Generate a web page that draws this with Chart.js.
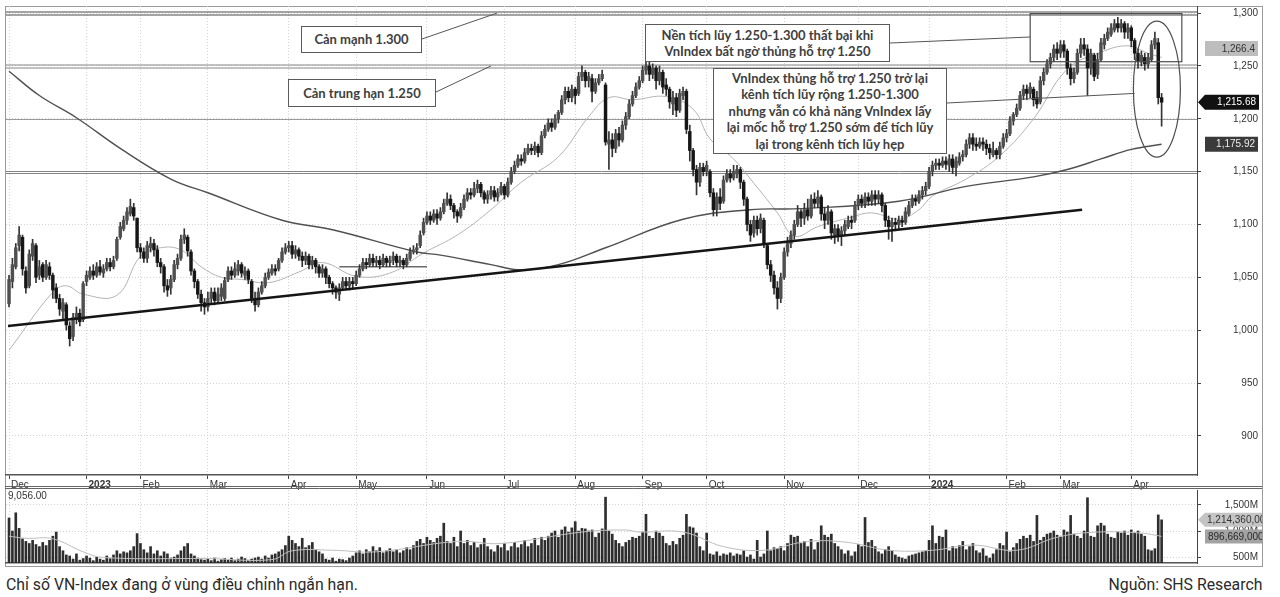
<!DOCTYPE html>
<html lang="vi">
<head>
<meta charset="utf-8">
<title>VN-Index</title>
<script src="https://cdn.jsdelivr.net/npm/chart.js@4.4.1/dist/chart.umd.min.js"></script>
<style>
  html, body { margin:0; padding:0; background:#fff; }
  #wrap { position:relative; width:1280px; height:597px; overflow:hidden; background:#fff; }
  #frame { position:absolute; left:5px; top:6px; width:1256px; height:559px; border:1px solid #9a9a9a; }
  canvas { position:absolute; left:0; }
  #cPrice { top:0; }
  #cVol { top:488px; }
  .box { position:absolute; box-sizing:border-box; border:1.5px solid #5a5a5a; background:#fff; color:#404040;
         font-family:Lato, "Open Sans", sans-serif; font-weight:700; font-size:13px; line-height:16.5px;
         display:flex; align-items:center; justify-content:center; text-align:center; white-space:nowrap; }
  .cap { position:absolute; top:574px; font-family:Roboto, "Liberation Sans", sans-serif; font-size:17px; color:#2a2a2a; white-space:nowrap; }
  #capL { left:6px; transform-origin:left top; transform:scaleX(0.93); }
  #capR { right:18px; transform-origin:right top; transform:scaleX(0.93); }
  #volTop { position:absolute; left:8px; top:490px; font:10px "Liberation Sans", Arial, sans-serif; color:#333; }
</style>
</head>
<body>
<div id="wrap">
  <div id="frame"></div>
  <canvas id="cPrice" width="1280" height="490"></canvas>
  <canvas id="cVol" width="1280" height="80"></canvas>
  <div id="volTop">9,056.00</div>
  <div class="box" style="left:301px;top:26px;width:121px;height:27px;">Cản mạnh 1.300</div>
  <div class="box" style="left:288px;top:79px;width:148px;height:28px;">Cản trung hạn 1.250</div>
  <div class="box" style="left:645px;top:24px;width:245px;height:38px;">Nền tích lũy 1.250-1.300 thất bại khi<br>VnIndex bất ngờ thủng hỗ trợ 1.250</div>
  <div class="box" style="left:713px;top:68px;width:234px;height:86px;">VnIndex thủng hỗ trợ 1.250 trở lại<br>kênh tích lũy rộng 1.250-1.300<br>nhưng vẫn có khả năng VnIndex lấy<br>lại mốc hỗ trợ 1.250 sớm để tích lũy<br>lại trong kênh tích lũy hẹp</div>
  <div class="cap" id="capL">Chỉ số VN-Index đang ở vùng điều chỉnh ngắn hạn.</div>
  <div class="cap" id="capR">Nguồn: SHS Research</div>
</div>
<script>
// ---------- DATA: daily candles [open, high, low, close] by month ----------
const dec22 = [[1025,1052,1022,1048],[1046,1068,1040,1062],[1060,1082,1058,1078],[1080,1098,1075,1090],[1088,1090,1052,1058],[1056,1060,1035,1040],[1042,1076,1040,1072],[1070,1086,1066,1082],[1080,1082,1045,1050],[1052,1066,1048,1060],[1062,1064,1046,1050],[1050,1066,1048,1062],[1060,1064,1048,1052],[1052,1054,1030,1038],[1040,1044,1026,1030],[1030,1034,1014,1020],[1018,1030,1010,1026],[1024,1026,1000,1005],[1004,1008,985,992],[994,1016,990,1012],[1010,1022,1006,1016],[1016,1020,1004,1008]];
const jan23 = [[1010,1046,1008,1044],[1046,1056,1042,1052],[1050,1060,1048,1056],[1056,1062,1048,1052],[1052,1064,1050,1060],[1060,1066,1052,1055],[1054,1062,1050,1058],[1058,1068,1056,1064],[1064,1068,1056,1060],[1060,1070,1058,1066],[1068,1088,1066,1086],[1088,1102,1086,1098],[1096,1108,1094,1104],[1104,1116,1100,1112],[1110,1124,1108,1117],[1116,1120,1104,1108]];
const feb23 = [[1106,1106,1074,1078],[1078,1082,1068,1074],[1074,1078,1064,1068],[1068,1084,1064,1080],[1078,1088,1074,1082],[1082,1086,1070,1076],[1076,1080,1060,1064],[1064,1068,1054,1060],[1060,1062,1036,1042],[1042,1048,1032,1038],[1040,1052,1034,1048],[1048,1066,1046,1062],[1062,1072,1058,1068],[1068,1090,1066,1086],[1086,1096,1082,1090],[1088,1090,1070,1075],[1074,1076,1052,1056],[1056,1058,1040,1046],[1046,1048,1030,1034],[1034,1038,1018,1026]];
const mar23 = [[1026,1030,1015,1022],[1022,1036,1018,1030],[1030,1040,1026,1036],[1036,1040,1024,1028],[1028,1040,1026,1034],[1032,1044,1028,1040],[1030,1050,1028,1047],[1048,1060,1046,1056],[1056,1060,1048,1052],[1052,1064,1050,1058],[1056,1066,1052,1062],[1062,1064,1050,1054],[1052,1060,1048,1056],[1056,1058,1044,1048],[1046,1048,1026,1030],[1030,1036,1018,1024],[1024,1040,1022,1036],[1036,1046,1034,1042],[1042,1054,1040,1050],[1050,1058,1048,1055],[1054,1062,1052,1058],[1058,1062,1052,1056],[1058,1068,1056,1066]];
const apr23 = [[1066,1078,1064,1074],[1074,1082,1072,1078],[1078,1084,1074,1080],[1080,1084,1068,1072],[1072,1080,1068,1076],[1076,1078,1066,1070],[1070,1074,1060,1066],[1066,1074,1062,1070],[1070,1072,1058,1062],[1062,1070,1058,1066],[1066,1068,1054,1060],[1060,1062,1050,1054],[1054,1062,1050,1058],[1058,1060,1044,1050],[1050,1052,1040,1044],[1044,1046,1034,1040],[1040,1042,1030,1036],[1034,1044,1028,1040],[1040,1050,1038,1046],[1046,1050,1038,1042]];
const may23 = [[1042,1050,1038,1046],[1046,1050,1040,1044],[1044,1056,1042,1052],[1052,1062,1050,1058],[1058,1068,1056,1064],[1064,1068,1058,1062],[1062,1072,1060,1068],[1068,1072,1060,1064],[1064,1070,1060,1066],[1066,1070,1058,1062],[1062,1072,1060,1068],[1068,1070,1060,1064],[1064,1070,1060,1066],[1066,1074,1062,1070],[1070,1072,1060,1064],[1064,1070,1060,1066],[1066,1068,1058,1062],[1062,1072,1060,1068],[1068,1078,1066,1074],[1074,1080,1072,1076]];
const jun23 = [[1076,1082,1072,1078],[1080,1094,1078,1090],[1092,1106,1090,1102],[1102,1112,1100,1108],[1108,1112,1100,1104],[1104,1114,1102,1110],[1110,1114,1100,1106],[1106,1116,1104,1112],[1112,1124,1110,1120],[1120,1130,1118,1124],[1124,1128,1114,1118],[1118,1120,1106,1112],[1112,1114,1102,1108],[1108,1120,1106,1116],[1116,1128,1114,1124],[1124,1134,1122,1130],[1130,1134,1124,1128],[1128,1140,1126,1134],[1134,1142,1130,1138],[1138,1140,1126,1130],[1130,1132,1120,1124],[1124,1132,1120,1128]];
const jul23 = [[1128,1136,1124,1132],[1132,1136,1122,1126],[1126,1134,1122,1130],[1130,1140,1128,1136],[1136,1138,1124,1128],[1128,1144,1126,1140],[1140,1154,1138,1150],[1150,1160,1148,1156],[1156,1166,1154,1162],[1162,1166,1156,1160],[1160,1172,1158,1168],[1168,1176,1166,1172],[1172,1176,1166,1170],[1170,1178,1166,1174],[1174,1176,1164,1168],[1168,1188,1166,1184],[1184,1194,1182,1190],[1190,1200,1188,1196],[1196,1200,1188,1192],[1192,1204,1190,1200],[1200,1208,1196,1206]];
const aug23 = [[1206,1222,1204,1218],[1218,1230,1214,1226],[1226,1230,1216,1220],[1220,1232,1216,1228],[1228,1230,1214,1222],[1224,1244,1222,1240],[1240,1250,1236,1244],[1244,1246,1230,1236],[1236,1244,1230,1240],[1238,1242,1216,1226],[1226,1238,1224,1234],[1234,1242,1232,1238],[1238,1246,1236,1242],[1232,1234,1175,1178],[1176,1188,1152,1180],[1180,1186,1164,1172],[1172,1190,1168,1186],[1186,1192,1174,1180],[1180,1198,1178,1194],[1194,1206,1190,1202],[1202,1218,1200,1214],[1214,1226,1212,1222],[1222,1234,1220,1230]];
const sep23 = [[1230,1240,1228,1236],[1236,1250,1234,1246],[1246,1256,1242,1250],[1250,1254,1236,1242],[1242,1252,1238,1248],[1248,1250,1228,1236],[1236,1250,1232,1244],[1244,1246,1224,1230],[1232,1238,1222,1228],[1228,1230,1210,1216],[1214,1226,1204,1220],[1220,1224,1202,1208],[1208,1228,1206,1224],[1222,1230,1218,1226],[1226,1228,1186,1190],[1188,1194,1160,1170],[1170,1172,1146,1152],[1152,1156,1128,1140],[1140,1158,1136,1154]];
const oct23 = [[1154,1158,1146,1150],[1150,1160,1146,1156],[1150,1152,1126,1130],[1130,1134,1108,1114],[1114,1130,1108,1126],[1126,1134,1114,1120],[1122,1146,1120,1142],[1142,1152,1140,1148],[1148,1152,1140,1144],[1144,1156,1142,1150],[1148,1156,1144,1152],[1152,1154,1134,1140],[1140,1142,1118,1124],[1124,1126,1094,1100],[1100,1104,1084,1090],[1092,1108,1088,1104],[1104,1108,1090,1096],[1096,1110,1092,1106],[1104,1106,1078,1082],[1080,1082,1058,1062],[1062,1066,1046,1052],[1052,1056,1034,1040]];
const nov23 = [[1040,1046,1020,1030],[1030,1054,1026,1050],[1050,1078,1048,1074],[1074,1088,1070,1082],[1082,1094,1078,1090],[1090,1104,1086,1100],[1100,1118,1098,1112],[1112,1114,1098,1106],[1106,1120,1100,1114],[1114,1124,1104,1108],[1108,1128,1106,1124],[1124,1130,1116,1120],[1120,1132,1116,1126],[1126,1128,1104,1110],[1110,1116,1096,1104],[1104,1118,1100,1112],[1112,1114,1086,1092],[1090,1100,1082,1096],[1096,1100,1084,1090],[1090,1098,1080,1094],[1094,1104,1090,1100],[1098,1108,1096,1104]];
const dec23 = [[1104,1108,1096,1102],[1104,1122,1102,1118],[1118,1128,1114,1124],[1124,1128,1116,1120],[1120,1130,1116,1126],[1126,1130,1118,1122],[1122,1132,1118,1128],[1128,1132,1118,1124],[1124,1132,1120,1128],[1128,1130,1112,1118],[1118,1120,1098,1104],[1104,1108,1086,1098],[1098,1106,1084,1102],[1102,1106,1094,1100],[1100,1108,1096,1104],[1104,1108,1098,1102],[1102,1116,1100,1112],[1110,1122,1108,1118],[1118,1128,1116,1124],[1124,1128,1118,1122],[1122,1132,1120,1128]];
const jan24 = [[1128,1136,1124,1132],[1132,1140,1128,1136],[1136,1154,1134,1150],[1150,1160,1146,1156],[1156,1162,1152,1158],[1158,1162,1152,1156],[1156,1164,1154,1160],[1160,1164,1152,1157],[1156,1166,1150,1162],[1162,1166,1148,1154],[1154,1164,1146,1160],[1158,1168,1156,1164],[1164,1170,1160,1166],[1166,1180,1164,1176],[1176,1186,1172,1182],[1182,1186,1170,1176],[1176,1182,1170,1174],[1174,1182,1172,1178],[1178,1182,1170,1176],[1176,1180,1166,1172],[1172,1176,1162,1168],[1166,1178,1164,1170]];
const feb24 = [[1170,1172,1162,1166],[1166,1178,1162,1174],[1174,1186,1172,1182],[1182,1190,1178,1186],[1186,1202,1184,1198],[1198,1206,1194,1204],[1204,1214,1202,1210],[1210,1226,1208,1222],[1222,1232,1218,1228],[1228,1232,1218,1224],[1224,1234,1220,1230],[1228,1230,1212,1218],[1220,1226,1210,1214],[1216,1240,1214,1236],[1236,1248,1232,1244],[1244,1256,1242,1252]];
const mar24 = [[1252,1262,1248,1258],[1258,1270,1254,1266],[1266,1272,1256,1262],[1262,1274,1258,1270],[1270,1274,1258,1264],[1264,1266,1242,1248],[1248,1252,1232,1238],[1238,1248,1234,1244],[1244,1266,1242,1262],[1262,1276,1258,1270],[1270,1276,1260,1266],[1266,1270,1222,1248],[1248,1266,1242,1262],[1260,1262,1236,1240],[1242,1262,1238,1256],[1256,1276,1254,1272],[1270,1280,1266,1276],[1276,1286,1274,1282],[1280,1290,1278,1286],[1284,1294,1282,1290],[1290,1296,1282,1286]];
const apr24 = [[1286,1294,1282,1290],[1290,1292,1276,1282],[1282,1290,1276,1286],[1286,1288,1268,1274],[1274,1276,1256,1262],[1262,1266,1248,1254],[1254,1264,1250,1260],[1258,1262,1246,1252],[1252,1262,1248,1258],[1256,1274,1254,1270],[1270,1282,1266,1276],[1272,1276,1214,1220],[1220,1224,1193,1215.68]];

// ---------- DATA: daily volume (million shares) by month ----------
const volDec22 = [1250,1000,1350,1050,850,800,760,820,740,700,780,720,820,900,980,700,620,540,520,460,560,440];
const volJan23 = [470,520,480,430,500,460,440,520,470,540,620,560,600,580,620,700];
const volFeb23 = [950,760,640,580,700,560,620,520,600,560,480,500,540,620,700,760,560,520,480,450];
const volMar23 = [440,460,430,480,420,450,470,440,480,430,460,500,470,440,460,480,500,460,520,480,540,560,600];
const volApr23 = [640,720,900,820,760,700,860,680,720,780,640,600,560,460,440,480,420,460,450,430];
const volMay23 = [480,520,580,620,560,640,600,700,620,680,580,620,660,600,640,580,620,680,640,720];
const volJun23 = [800,840,760,880,820,780,860,900,1150,800,760,880,700,1000,760,820,720,780,680,740,860,700];
const volJul23 = [640,600,720,680,760,620,700,780,680,740,820,700,760,860,720,880,820,900,960,1000,880];
const volAug23 = [1020,1080,980,1060,1180,1000,1050,1040,1000,1020,880,960,1040,1650,1000,940,820,760,700,780,820,880,860];
const volSep23 = [900,980,1320,900,860,1000,960,900,760,720,800,740,860,920,1320,1080,1060,960,700];
const volOct23 = [620,960,560,540,600,520,560,540,580,520,560,540,620,500,540,460,820,500,560,1000,620,680];
const volNov23 = [660,700,620,760,920,880,900,760,800,700,840,640,780,1100,920,880,940,760,700,640,560,620];
const volDec23 = [520,600,740,700,1260,780,820,700,600,560,640,700,620,540,500,480,460,520,540,560,580];
const volJan24 = [600,620,820,1100,760,900,880,1020,620,700,660,720,800,640,700,760,620,580,660,520,480,560];
const volFeb24 = [640,760,720,980,600,680,760,840,900,860,920,800,1300,820,880,940];
const volMar24 = [960,1000,920,880,1020,980,1300,940,900,860,1000,1640,900,880,1100,1150,1100,940,880,860,980];
const volApr24 = [960,1000,920,1020,960,1000,940,900,640,620,660,1310,1214.36];

// ---------- DATA: indicator lines [dayIndex, value] ----------
const maShort = [[0,981],[13,1036],[17,1042],[22,1034],[32,1033],[39,1070],[45,1078],[51,1076],[57,1060],[63,1050],[69,1048],[77,1045],[86,1055],[93,1064],[103,1051],[113,1054],[123,1073],[133,1090],[143,1114],[152,1140],[163,1164],[172,1202],[178,1220],[185,1218],[195,1221],[203,1209],[208,1181],[215,1162],[220,1143],[228,1111],[233,1089],[240,1098],[250,1107],[256,1111],[264,1105],[270,1114],[274,1127],[284,1143],[294,1165],[304,1200],[314,1247],[324,1263],[332,1269],[338,1262],[342,1258]];
const maLong = [[0,1245],[9,1222],[20,1201],[33,1172],[48,1143],[59,1130],[81,1104],[96,1095],[121,1074],[128,1071],[143,1062],[152,1057],[163,1062],[177,1078],[200,1105],[220,1114],[235,1115],[264,1122],[284,1136],[304,1145],[314,1152],[324,1162],[333,1171],[342,1175.92]];
const trendLine = [[-0.3,1004],[318.4,1114]];
const flatLine = [[98,1060],[124,1060]];
const volMA = [[0,900],[5,860],[13,850],[22,600],[28,490],[59,470],[78,450],[84,620],[96,630],[109,600],[133,800],[146,760],[170,980],[183,1020],[187,980],[200,980],[212,700],[224,630],[237,800],[249,780],[261,630],[274,630],[286,730],[299,630],[311,880],[323,980],[336,960],[342,896.669]];

// ---------- DATA: axes and labels ----------
const monthTicks  = [0,23,39,59,83,103,124,147,168,188,207,230,252,273,296,312,333];
const monthLabels = ['Dec','2023','Feb','Mar','Apr','May','Jun','Jul','Aug','Sep','Oct','Nov','Dec','2024','Feb','Mar','Apr'];
const priceTicks  = [900,950,1000,1050,1100,1150,1200,1250,1300];
const volTicks    = [500,1000,1500];
const levels      = [1300,1250,1200,1150];
const shortMALast = 1266.4;

// ---------- build ----------
const candles = [dec22,jan23,feb23,mar23,apr23,may23,jun23,jul23,aug23,sep23,oct23,nov23,dec23,jan24,feb24,mar24,apr24].flat();
const volumes = [volDec22,volJan23,volFeb23,volMar23,volApr23,volMay23,volJun23,volJul23,volAug23,volSep23,volOct23,volNov23,volDec23,volJan24,volFeb24,volMar24,volApr24].flat();
const wicks  = candles.map((c,i)=>({x:i, y:[c[2], c[1]]}));
const bodies = candles.map((c,i)=>({x:i, y: c[0]===c[3] ? [c[0]-0.6, c[3]+0.6] : [c[0], c[3]]}));
const bodyColors = candles.map(c => c[3] >= c[0] ? '#505050' : '#161616');
const pts = a => a.map(p => ({x:p[0], y:p[1]}));
const lastClose = candles[candles.length-1][3];
const lastVol = volumes[volumes.length-1];
const XMIN = -0.9, XMAX = 352.5;

Chart.defaults.font.family = '"Liberation Sans", Arial, sans-serif';
Chart.defaults.font.size = 10;
Chart.defaults.color = '#333';

const fmt = v => v.toLocaleString('en-US');

function xScale(showLabels){
  return {
    type:'linear', min:XMIN, max:XMAX, offset:false,
    afterBuildTicks: s => { s.ticks = monthTicks.map(v => ({value:v})); },
    afterFit: s => { s.height = showLabels ? 15 : 5; s.paddingLeft = 0; s.paddingRight = 0; },
    ticks: {
      display: showLabels, autoSkip:false, maxRotation:0, minRotation:0, align:'start', labelOffset:2, padding:0, color:'#333',
      callback: v => { const k = monthTicks.indexOf(v); return k >= 0 ? monthLabels[k] : ''; },
      font: c => { const k = c.tick ? monthTicks.indexOf(c.tick.value) : -1; return {size:10, weight: (k>=0 && /^20/.test(monthLabels[k])) ? 'bold' : 'normal'}; }
    },
    grid: { offset:false, color:'#d4d4d4', lineWidth:1, drawTicks: showLabels, tickLength:4, tickColor:'#444' },
    border: { display:true, color:'#555', width:1.5, dash:[1,2] }
  };
}

function yScale(min, max, ticks, fmtTick){
  return {
    position:'right', min, max,
    afterBuildTicks: s => { s.ticks = ticks.map(v => ({value:v})); },
    afterFit: s => { s.width = 61; s.paddingTop = 0; s.paddingBottom = 0; },
    ticks:{ callback: fmtTick, crossAlign:'far', padding:4, color:'#333', font:{size:10} },
    grid:{ color:'#d4d4d4', tickLength:4, tickColor:'#444' },
    border:{ display:true, color:'#444', width:1, dash:[1,2] }
  };
}

function badge(ctx, x, yc, w, h, fill, color, text, arrow, alignLeft){
  ctx.save();
  ctx.beginPath();
  if (arrow){
    ctx.moveTo(x, yc); ctx.lineTo(x+7, yc-h/2); ctx.lineTo(x+w, yc-h/2); ctx.lineTo(x+w, yc+h/2); ctx.lineTo(x+7, yc+h/2); ctx.closePath();
  } else ctx.rect(x, yc-h/2, w, h);
  ctx.fillStyle = fill; ctx.fill();
  ctx.clip();
  ctx.fillStyle = color; ctx.font = '10px "Liberation Sans", Arial, sans-serif'; ctx.textBaseline = 'middle';
  if (alignLeft){ ctx.textAlign = 'left'; ctx.fillText(text, x + (arrow?9:3), yc+0.5); }
  else { ctx.textAlign = 'right'; ctx.fillText(text, x+w-3, yc+0.5); }
  ctx.restore();
}

const levelsPlugin = {
  id:'levels',
  beforeDatasetsDraw(chart){
    const {ctx, chartArea:a, scales:{y}} = chart;
    const style = {1300:{c:'#4a4a4a', d:[-1.5,1.5]}, 1250:{c:'#858585', d:[-1.5,1.5]}, 1200:{c:'#9a9a9a', d:[0]}, 1150:{c:'#858585', d:[-1,1]}};
    ctx.save(); ctx.lineWidth = 1;
    levels.forEach(v => {
      const py = Math.round(y.getPixelForValue(v)) + 0.5;
      const s = style[v];
      ctx.strokeStyle = s.c;
      s.d.forEach(d => { ctx.beginPath(); ctx.moveTo(a.left, py+d); ctx.lineTo(a.right, py+d); ctx.stroke(); });
    });
    ctx.restore();
  }
};

const annotPlugin = {
  id:'annot',
  afterDatasetsDraw(chart){
    const {ctx, scales:{x, y}} = chart;
    const X = v => x.getPixelForValue(v), Y = v => y.getPixelForValue(v);
    ctx.save();
    ctx.strokeStyle = '#4e4e4e'; ctx.lineWidth = 1.2;
    ctx.strokeRect(X(303), Y(1299.5), X(348) - X(303), Y(1254) - Y(1299.5));
    ctx.beginPath(); ctx.ellipse(X(340.6), Y(1228), 23.5, 68, 0, 0, Math.PI*2); ctx.stroke();
    ctx.lineWidth = 1; ctx.strokeStyle = '#555';
    const seg = (x1,y1,x2,y2) => { ctx.beginPath(); ctx.moveTo(x1,y1); ctx.lineTo(x2,y2); ctx.stroke(); };
    seg(422, 39, X(144.8), Y(1300));
    seg(436, 92, X(143), Y(1250));
    seg(890, 43, X(303), 37);
    seg(947, 103, X(334), Y(1224));
    ctx.restore();
  },
  afterDraw(chart){
    const {ctx, scales:{y}} = chart;
    badge(ctx, 1205, y.getPixelForValue(shortMALast), 53, 15, '#bdbdbd', '#333', fmt(shortMALast), false);
    badge(ctx, 1198, y.getPixelForValue(lastClose), 61, 15, '#111', '#fff', fmt(lastClose), true);
    badge(ctx, 1205, y.getPixelForValue(maLong[maLong.length-1][1]), 53, 15, '#3a3a3a', '#eee', fmt(maLong[maLong.length-1][1]), false);
    ctx.save(); ctx.strokeStyle = '#666'; ctx.lineWidth = 1;
    [486.5, 488.5].forEach(py => { ctx.beginPath(); ctx.moveTo(5, py); ctx.lineTo(1262, py); ctx.stroke(); });
    ctx.restore();
  }
};

new Chart(document.getElementById('cPrice'), {
  type:'bar',
  data:{ datasets:[
    {type:'line', data: pts(trendLine), borderColor:'#151515', borderWidth:2.4, pointRadius:0, order:0},
    {data: bodies, backgroundColor: bodyColors, barThickness:2.8, grouped:false, order:1},
    {data: wicks, backgroundColor:'#333', barThickness:1, grouped:false, order:2},
    {type:'line', data: pts(maLong), borderColor:'#505050', borderWidth:1.4, pointRadius:0, tension:0.4, order:3},
    {type:'line', data: pts(maShort), borderColor:'#b3b3b3', borderWidth:1, pointRadius:0, tension:0.4, order:4},
    {type:'line', data: pts(flatLine), borderColor:'#6a6a6a', borderWidth:1.6, pointRadius:0, order:5}
  ]},
  options:{
    responsive:false, animation:false, events:[],
    layout:{ padding:{left:6, right:22, top:6, bottom:0} },
    plugins:{ legend:{display:false}, tooltip:{enabled:false} },
    scales:{ x: xScale(true), y: yScale(863, 1306.7, priceTicks, v => fmt(v)) }
  },
  plugins:[levelsPlugin, annotPlugin]
});

const volBadgePlugin = {
  id:'volBadges',
  afterDraw(chart){
    const {ctx, scales:{y}} = chart;
    badge(ctx, 1198, y.getPixelForValue(lastVol), 64, 14, '#c4c4c4', '#333', fmt(Math.round(lastVol*1e6)), true, true);
    const vm = volMA[volMA.length-1][1];
    badge(ctx, 1205, y.getPixelForValue(vm), 57, 14, '#a3a3a3', '#2a2a2a', fmt(Math.round(vm*1e6)), false, true);
  }
};

new Chart(document.getElementById('cVol'), {
  type:'bar',
  data:{ datasets:[
    {type:'line', data: pts(volMA), borderColor:'#bdbdbd', borderWidth:1, pointRadius:0, tension:0.4, order:0},
    {data: volumes.map((v,i)=>({x:i, y:v})), backgroundColor:'#2e2e2e', barThickness:2, grouped:false, order:1}
  ]},
  options:{
    responsive:false, animation:false, events:[],
    layout:{ padding:{left:6, right:22, top:2, bottom:0} },
    plugins:{ legend:{display:false}, tooltip:{enabled:false} },
    scales:{ x: xScale(false), y: yScale(385, 1788, volTicks, v => fmt(v) + 'M') }
  },
  plugins:[volBadgePlugin]
});
</script>
</body>
</html>
